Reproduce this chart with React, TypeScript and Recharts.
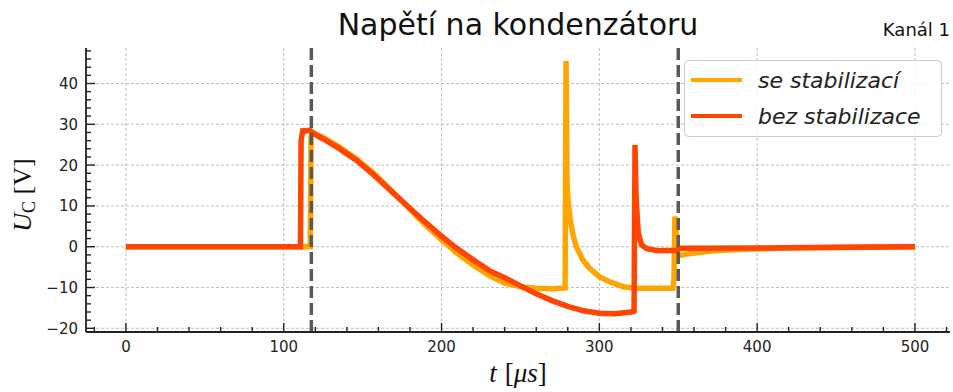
import { LineChart, Line, XAxis, YAxis, CartesianGrid, ReferenceLine, Legend } from 'recharts';

// t [us], U_C [V]
const stabT = [0, 116.8, 117.3, 118.5, 125, 135, 146, 157, 167, 178, 188, 199, 209.6, 220, 230, 240, 250, 260, 270, 278.3, 278.9, 279.5, 280.1, 281.2, 283.3, 285.4, 289.6, 293.8, 300.2, 306.5, 315, 323.4, 346.6, 347.3, 347.9, 348.5, 349.6, 350.7, 355, 362, 372, 393, 420, 460, 500];
const stabU = [0, 0, 27.0, 28.0, 26.8, 24.5, 21.6, 18.0, 14.2, 10.0, 6.0, 2.0, -1.5, -4.5, -7.0, -8.9, -9.8, -10.2, -10.3, -10.1, 45.5, 16.0, 11.5, 7.4, 2.9, 0, -3.3, -5.3, -7.4, -8.6, -9.8, -10.2, -10.2, -8.0, 7.4, 5.0, -2.0, -2.2, -1.8, -1.5, -1.0, -0.6, -0.3, -0.2, 0];

const bezT = [0, 110.6, 111.0, 112, 116.5, 118.5, 125, 135, 146, 157, 167, 178, 188, 199, 209, 220, 230, 240, 250, 260, 270, 280, 290, 300, 310, 320, 322, 322.6, 323.3, 324, 324.7, 326.8, 330, 336.3, 349, 351, 400, 450, 500];
const bezU = [0, 0, 26.0, 28.4, 28.5, 27.8, 26.4, 24.1, 21.2, 17.6, 14.0, 10.1, 6.6, 2.9, -0.2, -3.2, -5.8, -7.6, -9.6, -11.5, -13.2, -14.6, -15.7, -16.3, -16.4, -16.0, -15.8, 24.9, 12.0, 7.4, 3.3, 0.4, -0.5, -0.9, -0.9, -0.4, -0.3, -0.1, 0];

const seriesNames = ['se stabilizací', 'bez stabilizace'];
const seriesColors = ['#ffa500', '#ff4500'];

const markers = [117.5, 350];

const xTicks = [-20, 0, 20, 40, 60, 80, 100, 120, 140, 160, 180, 200, 220, 240, 260, 280, 300, 320, 340, 360, 380, 400, 420, 440, 460, 480, 500, 520];
const xMajor = [0, 100, 200, 300, 400, 500];
const yTicks = [-20, -18, -16, -14, -12, -10, -8, -6, -4, -2, 0, 2, 4, 6, 8, 10, 12, 14, 16, 18, 20, 22, 24, 26, 28, 30, 32, 34, 36, 38, 40, 42, 44, 46, 48];
const yMajor = [-20, -10, 0, 10, 20, 30, 40];

const stabData = stabT.map((t, i) => ({ t, u: stabU[i] }));
const bezData = bezT.map((t, i) => ({ t, u: bezU[i] }));

const xDomain = [-25.3, 522.2];
const yDomain = [-20.9, 48.7];

const INK = '#222';
const FONT = 'DejaVu Sans';

const fmt = (v: number) => (v < 0 ? '\u2212' + Math.abs(v) : String(v));

function BottomTick({ x, y, payload }: any) {
  const major = payload.value % 100 === 0;
  return (
    <g>
      <line x1={x} x2={x} y1={y} y2={y - (major ? 9 : 5)} stroke={INK} strokeWidth={1.4} />
      {major && (
        <text x={x} y={y + 20} textAnchor="middle" fontFamily={FONT} fontSize={15} fill={INK}>
          {fmt(payload.value)}
        </text>
      )}
    </g>
  );
}

function TopTick({ x, y, payload }: any) {
  const major = payload.value % 100 === 0;
  return <line x1={x} x2={x} y1={y} y2={y + (major ? 9 : 5)} stroke={INK} strokeWidth={1.4} />;
}

function LeftTick({ x, y, payload }: any) {
  const major = payload.value % 10 === 0;
  return (
    <g>
      <line x1={x} x2={x + (major ? 9 : 5)} y1={y} y2={y} stroke={INK} strokeWidth={1.4} />
      {major && (
        <text x={x - 8} y={y + 5.5} textAnchor="end" fontFamily={FONT} fontSize={15} fill={INK}>
          {fmt(payload.value)}
        </text>
      )}
    </g>
  );
}

function RightTick({ x, y, payload }: any) {
  const major = payload.value % 10 === 0;
  return <line x1={x} x2={x - (major ? 9 : 5)} y1={y} y2={y} stroke={INK} strokeWidth={1.4} />;
}

function LegendBox({ payload }: any) {
  const items = (payload || [])
    .filter((p: any) => seriesNames.includes(p.value))
    .sort((a: any, b: any) => seriesNames.indexOf(a.value) - seriesNames.indexOf(b.value));
  return (
    <svg width={258} height={77} style={{ display: 'block' }}>
      <rect x={0.5} y={0.5} width={257} height={76} rx={4} fill="rgba(255,255,255,0.85)" stroke="#cccccc" />
      {items.map((p: any, i: number) => (
        <g key={p.value}>
          <line x1={7} x2={58} y1={20 + i * 36} y2={20 + i * 36} stroke={p.color} strokeWidth={4} />
          <text x={74} y={28 + i * 36} fontFamily={FONT} fontStyle="italic" fontSize={22} fill={INK}>
            {p.value}
          </text>
        </g>
      ))}
    </svg>
  );
}

export default function App() {
  return (
    <div style={{ position: 'absolute', left: 0, top: 0, width: 953, height: 392, background: '#fff' }}>
      <LineChart width={953} height={392} margin={{ top: 48, right: 3, bottom: 0, left: 0 }}>
        <CartesianGrid stroke="#b0b0b0" strokeDasharray="3 2" strokeWidth={0.8} verticalValues={xMajor} horizontalValues={yMajor} />
        <XAxis
          type="number"
          dataKey="t"
          domain={xDomain}
          allowDataOverflow
          ticks={xTicks}
          interval={0}
          height={60}
          tickSize={0}
          tickMargin={0}
          tickLine={false}
          axisLine={{ stroke: INK, strokeWidth: 1.8 }}
          tick={<BottomTick />}
        />
        <XAxis
          xAxisId="top"
          orientation="top"
          type="number"
          dataKey="t"
          domain={xDomain}
          allowDataOverflow
          ticks={xTicks}
          interval={0}
          height={0}
          tickSize={0}
          tickMargin={0}
          tickLine={false}
          axisLine={{ stroke: INK, strokeWidth: 1.8 }}
          tick={<TopTick />}
        />
        <YAxis
          type="number"
          domain={yDomain}
          allowDataOverflow
          ticks={yTicks}
          interval={0}
          width={86}
          tickSize={0}
          tickMargin={0}
          tickLine={false}
          axisLine={{ stroke: INK, strokeWidth: 1.8 }}
          tick={<LeftTick />}
        />
        <YAxis
          yAxisId="right"
          orientation="right"
          type="number"
          domain={yDomain}
          allowDataOverflow
          ticks={yTicks}
          interval={0}
          width={0}
          tickSize={0}
          tickMargin={0}
          tickLine={false}
          axisLine={{ stroke: INK, strokeWidth: 1.8 }}
          tick={<RightTick />}
        />
        <Line data={stabData} dataKey="u" name={seriesNames[0]} type="linear" stroke={seriesColors[0]} strokeWidth={5.5} dot={false} isAnimationActive={false} />
        <Line data={bezData} dataKey="u" name={seriesNames[1]} type="linear" stroke={seriesColors[1]} strokeWidth={5.5} dot={false} isAnimationActive={false} />
        {markers.map((m) => (
          <ReferenceLine key={m} x={m} stroke="#595959" strokeWidth={3.5} strokeDasharray="12 5" />
        ))}
        <Legend
          layout="vertical"
          align="center"
          verticalAlign="middle"
          content={<LegendBox />}
          wrapperStyle={{ left: 684, top: 60, width: 258, height: 77 }}
        />
      </LineChart>
      <svg width={953} height={392} style={{ position: 'absolute', left: 0, top: 0, pointerEvents: 'none' }}>
        <text x={518} y={35} textAnchor="middle" fontFamily={FONT} fontSize={30} fill="#111">
          Napětí na kondenzátoru
        </text>
        <text x={950} y={36} textAnchor="end" fontFamily={FONT} fontSize={18} fill="#111">
          Kanál 1
        </text>
        <text x={518} y={382} textAnchor="middle" fontFamily="Liberation Serif" fontSize={27} fill="#111">
          <tspan fontStyle="italic">t</tspan>
          <tspan dx={8}>[</tspan>
          <tspan fontStyle="italic">μs</tspan>
          <tspan>]</tspan>
        </text>
        <text transform="translate(31,195) rotate(-90)" textAnchor="middle" fontFamily="Liberation Serif" fontSize={26} fill="#111">
          <tspan fontStyle="italic">U</tspan>
          <tspan fontSize={18} dy={4}>C</tspan>
          <tspan dy={-4}> [V]</tspan>
        </text>
      </svg>
    </div>
  );
}
